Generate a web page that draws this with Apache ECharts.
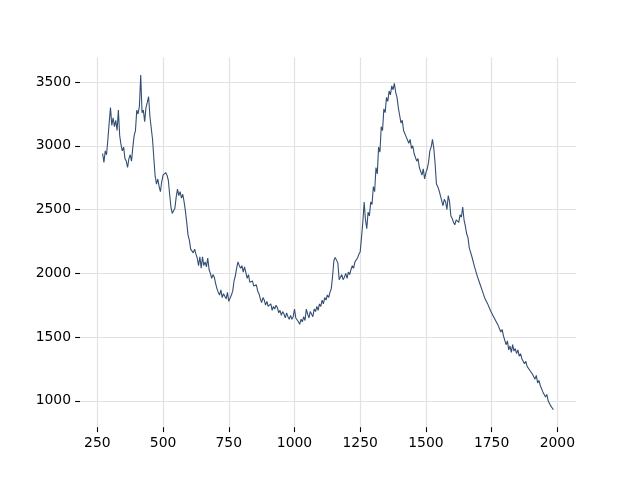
<!DOCTYPE html>
<html>
<head>
<meta charset="utf-8">
<script src="https://cdn.jsdelivr.net/npm/echarts@6/dist/echarts.min.js"></script>
<style>html,body{margin:0;padding:0;background:#fff}#c{width:640px;height:480px}</style>
</head>
<body>
<div id="c"></div>
<script>
const xStart = 270;
const xStep = 5;
const yValues = [
2940,2870,2960,2930,3050,3180,3300,3160,3220,3150,3200,3120,3280,3080,3010,2960,2990,2900,2880,2830,
2900,2930,2880,2990,3080,3120,3280,3250,3310,3555,3260,3280,3190,3300,3340,3385,3230,3220,3050,2900,
2760,2700,2740,2680,2640,2720,2770,2760,2790,2770,2730,2620,2520,2470,2490,2510,2600,2660,2610,2640,
2590,2620,2560,2490,2400,2300,2260,2190,2200,2160,2190,2150,2120,2060,2130,2040,2130,2060,2090,2050,
2120,2030,2000,1960,1990,1970,1920,1880,1850,1830,1870,1810,1840,1830,1800,1850,1780,1770,1830,1860,
1940,1980,2040,2090,2060,2040,2060,2010,2050,2040,1960,1990,1930,1920,1940,1900,1890,1910,1860,1840,
1800,1770,1810,1790,1750,1780,1740,1730,1760,1710,1740,1720,1750,1730,1690,1710,1670,1700,1680,1650,
1690,1660,1640,1670,1640,1660,1720,1650,1640,1620,1600,1640,1620,1660,1630,1720,1680,1650,1700,1690,
1660,1720,1700,1740,1710,1760,1740,1790,1760,1810,1790,1830,1810,1850,1880,1980,2100,2125,2135,2080,
1950,1940,1990,1950,1970,2000,1960,2010,1990,2030,2060,2040,2090,2100,2120,2150,2170,2280,2400,2560,
2420,2350,2480,2450,2560,2540,2680,2640,2830,2780,2990,2950,3150,3120,3290,3260,3380,3350,3430,3400,
3470,3440,3490,3420,3380,3300,3240,3180,3200,3120,3130,3070,3080,3020,3050,2980,3000,2940,2950,2880,
2900,2830,2820,2770,2820,2740,2790,2820,2870,2960,2990,3050,2980,2860,2700,2680,2650,2660,2570,2530,
2580,2560,2500,2610,2560,2450,2430,2400,2380,2420,2430,2400,2460,2440,2520,2420,2370,2310,2280,2200,
2200,2130,2120,2050,2060,1980,1990,1920,1920,1860,1870,1800,1810,1760,1770,1710,1720,1670,1680,1630,
1640,1590,1600,1540,1560,1510,1500,1440,1470,1400,1430,1380,1440,1390,1410,1370,1400,1350,1370,1330,
1330,1290,1310,1270,1270,1240,1250,1210,1220,1170,1200,1140,1160,1120,1130,1070,1080,1030,1050,1000,
1000,960,970,930
];
const xTicks = [250, 500, 750, 1000, 1250, 1500, 1750, 2000];
const yTicks = [1000, 1500, 2000, 2500, 3000, 3500];

const seriesData = yValues.map((v, i) => [xStart + i * xStep, v]);

const chart = echarts.init(document.getElementById('c'), null, {renderer: 'canvas'});
const gridColor = '#e2e2e2';
const font = {fontFamily: 'DejaVu Sans', fontSize: 13.9, color: '#000', formatter: v => String(v)};
chart.setOption({
  animation: false,
  backgroundColor: '#fff',
  grid: {left: 80, right: 64, top: 57.6, bottom: 52.8, containLabel: false},
  xAxis: {
    type: 'value', min: 184, max: 2071,
    axisLine: {show: false},
    axisTick: {show: true, customValues: xTicks, length: 4.9, lineStyle: {color: '#000', width: 1.1}},
    axisLabel: Object.assign({customValues: xTicks, margin: 9}, font),
    splitLine: {show: true, customValues: xTicks, lineStyle: {color: gridColor, width: 1.2}}
  },
  yAxis: {
    type: 'value', min: 793, max: 3692,
    axisLine: {show: false},
    axisTick: {show: true, customValues: yTicks, length: 4.9, lineStyle: {color: '#000', width: 1.1}},
    axisLabel: Object.assign({customValues: yTicks, margin: 9}, font),
    splitLine: {show: true, customValues: yTicks, lineStyle: {color: gridColor, width: 1.2}}
  },
  series: [{
    type: 'line',
    data: seriesData,
    showSymbol: false,
    symbol: 'none',
    lineStyle: {color: '#344f73', width: 1.1},
    z: 5
  }]
});
</script>
</body>
</html>
